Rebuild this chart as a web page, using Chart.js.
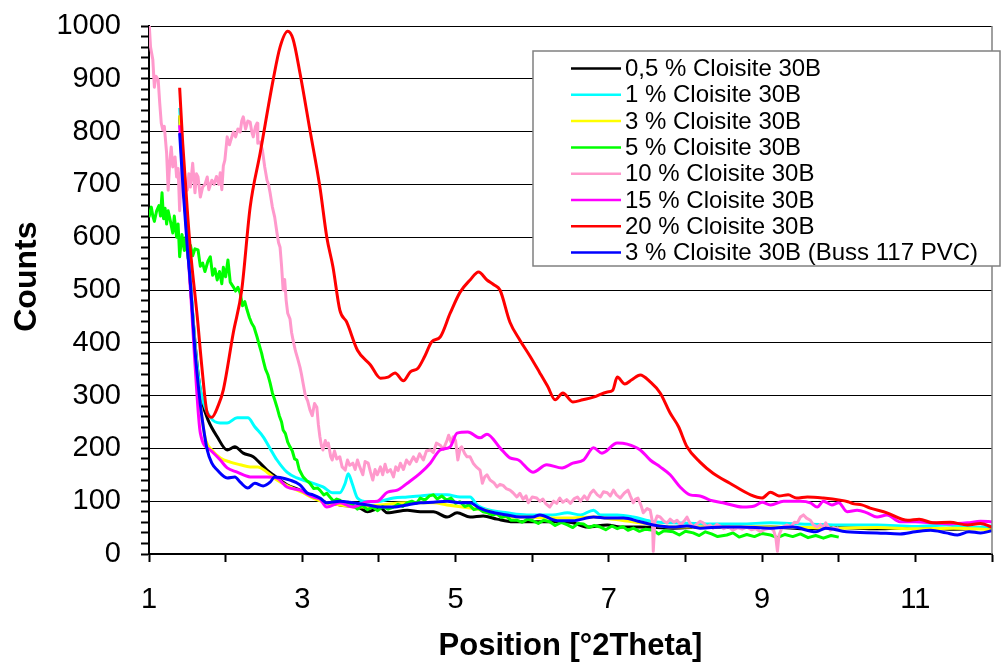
<!DOCTYPE html>
<html>
<head>
<meta charset="utf-8">
<script src="https://cdn.jsdelivr.net/npm/chart.js@4/dist/chart.umd.min.js"></script>
<style>
  html, body { margin: 0; padding: 0; background: #fff; }
  #wrap { width: 1007px; height: 666px; }
</style>
</head>
<body>
<div id="wrap"><canvas id="xrd" width="1007" height="666"></canvas></div>
<script>
// series names as in the legend
const seriesNames = [
  '0,5 % Cloisite 30B', '1 % Cloisite 30B', '3 % Cloisite 30B', '5 % Cloisite 30B',
  '10 % Cloisite 30B', '15 % Cloisite 30B', '20 % Cloisite 30B', '3 % Cloisite 30B (Buss 117 PVC)'
];
const seriesColors = ['#000000', '#00ffff', '#ffff00', '#00ff00', '#ff99cc', '#ff00ff', '#ff0000', '#0000ff'];
const noisy = [false, false, false, true, true, false, false, false];

// 0,5 %
const pos05 = [1.40,1.45,1.50,1.55,1.60,1.65,1.70,1.77,1.89,2.02,2.12,2.23,2.36,2.45,2.54,2.62,2.80,2.97,3.14,3.32,3.49,3.75,3.85,4.02,4.11,4.37,4.54,4.71,4.89,5.02,5.19,5.36,5.54,5.75,6.01,6.33,6.53,6.72,6.98,7.15,7.41,7.84,8.28,8.70,9.11,9.50,10.0,10.5,11.0,11.5,12.0];
const cnt05 = [830,700,600,490,400,330,285,254,222,197,203,191,184,172,159,150,131,121,108,97,93,87,80,87,78,83,80,80,70,78,70,72,66,61,61,61,59,51,55,51,51,49,51,50,51,48,50,48,50,47,49];

// 1 %
const pos1 = [1.40,1.45,1.50,1.55,1.60,1.65,1.70,1.80,1.93,2.02,2.15,2.29,2.38,2.49,2.58,2.67,2.80,2.93,3.10,3.27,3.40,3.49,3.56,3.60,3.65,3.72,3.85,4.02,4.19,4.37,4.54,4.71,4.89,5.06,5.19,5.28,5.45,5.67,5.93,6.27,6.46,6.63,6.80,6.89,7.11,7.32,7.58,7.84,8.28,8.72,9.11,9.50,10.0,10.5,11.0,11.4,11.7,12.0];
const cnt1 = [845,720,610,500,400,330,292,259,248,248,258,258,241,222,200,178,155,144,136,127,116,116,134,152,134,106,99,100,106,108,110,112,112,108,108,93,83,78,74,74,78,74,83,74,74,70,61,59,57,57,59,57,55,55,52,55,50,53];

// 3 %
const pos3 = [1.40,1.45,1.50,1.55,1.60,1.65,1.73,1.82,1.93,2.06,2.19,2.32,2.42,2.54,2.67,2.84,3.01,3.14,3.32,3.49,3.75,4.02,4.37,4.71,4.89,5.19,5.40,5.67,5.93,6.19,6.46,6.80,7.06,7.41,7.84,8.28,9.11,9.60,10.0,10.5,11.0,11.5,12.0];
const cnt3 = [831,710,600,490,390,310,222,197,182,174,169,165,165,155,140,127,116,106,97,93,89,93,97,97,93,87,83,70,70,68,68,70,66,59,51,51,51,50,49,50,48,49,46];

// 5 % (noisy)
const pos5 = [1.00,1.03,1.05,1.07,1.10,1.13,1.15,1.17,1.19,1.21,1.23,1.25,1.28,1.31,1.33,1.36,1.38,1.40,1.43,1.46,1.48,1.51,1.54,1.57,1.60,1.64,1.67,1.70,1.73,1.77,1.80,1.83,1.86,1.89,1.92,1.95,1.97,2.00,2.03,2.06,2.10,2.13,2.16,2.19,2.22,2.25,2.28,2.31,2.34,2.37,2.41,2.44,2.47,2.49,2.52,2.55,2.58,2.61,2.64,2.67,2.70,2.73,2.75,2.78,2.81,2.84,2.87,2.90,2.93,2.96,3.01,3.05,3.10,3.15,3.20,3.23,3.28,3.32,3.36,3.41,3.45,3.49,3.55,3.60,3.66,3.72,3.78,3.85,3.92,3.98,4.05,4.12,4.19,4.25,4.31,4.37,4.43,4.49,4.54,4.60,4.66,4.71,4.76,4.82,4.88,4.94,5.00,5.06,5.12,5.18,5.24,5.30,5.36,5.42,5.48,5.54,5.60,5.66,5.72,5.80,5.87,5.94,6.01,6.08,6.15,6.23,6.30,6.38,6.46,6.53,6.60,6.67,6.74,6.81,6.89,6.96,7.04,7.11,7.18,7.25,7.32,7.40,7.48,7.58,7.65,7.72,7.84,7.92,8.00,8.10,8.18,8.26,8.34,8.42,8.54,8.62,8.70,8.80,8.90,9.00,9.11,9.20,9.30,9.40,9.50,9.60,9.70,9.80,9.90,10.0];
const cnt5 = [638,657,640,630,650,660,640,684,635,655,625,650,630,608,640,600,625,563,605,575,600,560,585,565,578,576,545,551,535,555,563,528,540,519,535,512,543,525,557,515,506,498,505,494,470,478,462,448,437,430,411,395,380,367,350,340,324,305,292,278,262,250,235,228,212,203,195,180,178,160,146,140,134,124,125,121,112,115,108,100,104,102,95,98,93,85,92,84,89,82,90,85,89,94,90,97,100,96,106,102,110,112,104,110,102,106,96,99,90,93,84,86,80,78,74,76,69,72,64,64,60,66,63,58,64,61,54,60,55,50,58,57,50,54,51,46,53,48,52,45,49,43,47,45,38,44,42,36,43,40,35,42,38,33,36,40,32,37,33,39,36,31,37,33,38,31,35,30,35,32];

// 10 % (noisy)
const pos10 = [1.00,1.02,1.05,1.07,1.09,1.12,1.14,1.16,1.18,1.20,1.23,1.25,1.27,1.29,1.31,1.34,1.36,1.38,1.40,1.42,1.44,1.47,1.50,1.52,1.54,1.57,1.60,1.62,1.64,1.67,1.70,1.73,1.76,1.78,1.82,1.85,1.88,1.91,1.93,1.95,1.97,1.99,2.02,2.05,2.07,2.10,2.13,2.16,2.19,2.21,2.23,2.26,2.29,2.32,2.34,2.36,2.39,2.41,2.42,2.45,2.48,2.51,2.54,2.56,2.58,2.61,2.64,2.67,2.69,2.71,2.73,2.75,2.77,2.79,2.81,2.84,2.86,2.88,2.91,2.94,2.97,2.99,3.01,3.04,3.07,3.10,3.13,3.16,3.19,3.21,3.23,3.25,3.27,3.30,3.32,3.34,3.37,3.39,3.42,3.45,3.49,3.52,3.56,3.59,3.62,3.66,3.69,3.72,3.75,3.79,3.82,3.86,3.89,3.92,3.95,3.98,4.02,4.05,4.08,4.11,4.15,4.19,4.22,4.25,4.28,4.32,4.36,4.40,4.45,4.49,4.53,4.58,4.62,4.67,4.71,4.75,4.80,4.84,4.89,4.91,4.94,4.97,5.00,5.03,5.06,5.08,5.12,5.15,5.19,5.23,5.27,5.32,5.35,5.38,5.41,5.45,5.50,5.54,5.58,5.62,5.66,5.71,5.75,5.80,5.84,5.88,5.92,5.95,6.00,6.06,6.10,6.14,6.18,6.23,6.28,6.32,6.36,6.40,6.45,6.50,6.55,6.59,6.63,6.68,6.72,6.76,6.80,6.85,6.89,6.93,6.98,7.02,7.06,7.10,7.15,7.20,7.25,7.28,7.32,7.35,7.38,7.42,7.45,7.50,7.54,7.57,7.58,7.60,7.63,7.67,7.72,7.76,7.80,7.85,7.89,7.94,7.98,8.02,8.06,8.10,8.15,8.19,8.23,8.28,8.32,8.36,8.41,8.45,8.50,8.56,8.62,8.68,8.74,8.80,8.86,8.92,8.98,9.04,9.11,9.15,9.18,9.20,9.22,9.26,9.32,9.38,9.42,9.46,9.50,9.54,9.58,9.63,9.67,9.72,9.76,9.80,9.83,9.86,9.89,9.93,9.97,10.0];
const cnt10 = [1010,960,936,884,905,898,854,816,803,810,759,689,740,771,733,752,714,730,650,720,752,705,689,720,695,740,684,720,714,676,695,700,714,690,708,700,715,700,722,690,735,746,790,775,785,799,790,805,799,820,828,805,820,818,800,790,810,816,778,780,765,733,708,700,684,657,638,608,590,581,545,500,520,480,456,445,420,405,385,370,354,340,324,300,290,273,262,285,278,245,222,205,197,215,205,210,185,178,195,180,184,165,159,178,168,172,160,178,165,150,175,172,155,140,160,150,165,150,170,155,160,146,165,158,172,160,178,170,184,175,190,178,195,197,192,210,206,198,216,225,212,222,215,178,200,203,190,184,184,172,165,159,134,146,150,140,135,127,132,130,124,121,116,108,115,104,110,97,108,106,100,104,95,89,100,96,106,98,103,96,105,108,100,110,103,115,121,112,108,118,116,110,121,112,106,115,121,110,97,104,106,92,78,86,83,60,5,60,72,70,62,59,66,60,64,55,62,70,58,51,57,62,59,52,55,49,56,53,48,52,45,50,47,51,46,48,42,47,49,45,30,5,35,50,55,52,60,59,70,74,68,64,55,51,56,50,59,52,45,50,47,50];

// 15 %
const pos15 = [1.40,1.45,1.50,1.55,1.60,1.67,1.80,1.93,2.02,2.15,2.32,2.54,2.67,2.80,2.97,3.14,3.23,3.32,3.49,3.66,3.85,3.98,4.11,4.24,4.37,4.54,4.67,4.80,4.93,5.02,5.16,5.32,5.41,5.58,5.71,5.82,6.01,6.19,6.39,6.53,6.67,6.80,6.91,7.11,7.24,7.41,7.54,7.67,7.80,7.93,8.06,8.19,8.32,8.49,8.75,8.90,9.00,9.11,9.28,9.50,9.63,9.72,9.80,9.91,10.0,10.11,10.24,10.37,10.50,10.63,10.80,11.0,11.23,11.45,11.68,11.85,12.0];
const cnt15 = [812,700,590,480,360,229,197,178,163,155,146,146,144,127,121,108,104,89,97,89,99,100,117,121,134,153,172,197,203,229,231,220,227,201,182,178,155,169,163,172,178,201,191,210,208,197,178,165,150,127,112,110,102,97,89,91,98,93,100,100,97,89,100,93,97,80,83,78,70,74,61,61,59,57,59,62,61];

// 20 %
const pos20 = [1.40,1.44,1.50,1.54,1.63,1.69,1.76,1.82,1.90,1.97,2.10,2.21,2.32,2.45,2.62,2.71,2.81,2.88,2.97,3.10,3.23,3.32,3.40,3.49,3.58,3.72,3.89,4.02,4.12,4.21,4.32,4.41,4.51,4.60,4.69,4.80,4.93,5.06,5.19,5.30,5.41,5.50,5.58,5.71,5.84,5.97,6.10,6.20,6.30,6.40,6.53,6.66,6.80,6.98,7.05,7.11,7.21,7.30,7.41,7.54,7.67,7.80,7.91,8.02,8.19,8.36,8.58,8.85,9.00,9.11,9.22,9.34,9.45,9.59,9.80,10.02,10.12,10.20,10.30,10.41,10.63,10.90,11.05,11.23,11.45,11.68,11.85,12.0];
const cnt20 = [883,778,651,576,449,354,267,259,280,311,419,500,657,759,898,960,990,975,911,803,695,600,544,462,439,386,358,333,335,343,328,345,352,375,402,411,456,496,519,534,519,510,500,439,405,375,343,318,292,305,288,292,297,307,310,335,322,330,339,326,305,267,241,203,174,153,134,112,106,117,110,112,106,108,106,102,99,95,93,87,78,64,66,59,60,55,58,51];

// 3 % Buss 117 PVC
const posBuss = [1.40,1.45,1.50,1.54,1.60,1.65,1.69,1.76,1.82,1.89,2.02,2.12,2.19,2.29,2.38,2.49,2.58,2.64,2.71,2.84,2.97,3.06,3.14,3.23,3.32,3.49,3.66,3.85,4.02,4.19,4.37,4.54,4.71,4.89,5.06,5.19,5.30,5.45,5.67,5.84,6.01,6.10,6.33,6.53,6.80,6.98,7.19,7.41,7.58,7.84,8.02,8.19,8.49,8.72,9.11,9.40,9.70,9.83,10.1,10.5,10.8,11.0,11.2,11.4,11.55,11.7,11.85,12.0];
const cntBuss = [797,680,580,513,386,310,260,197,172,159,144,146,136,125,134,129,136,146,145,140,131,116,112,106,97,100,97,93,89,89,93,97,98,100,97,97,88,80,74,70,70,74,63,63,70,68,68,61,55,51,53,49,51,51,49,51,42,49,42,40,38,42,45,40,36,42,40,44];

const xTicks = [1, 3, 5, 7, 9, 11];

const positions = [pos05, pos1, pos3, pos5, pos10, pos15, pos20, posBuss];
const counts = [cnt05, cnt1, cnt3, cnt5, cnt10, cnt15, cnt20, cntBuss];

const FONT = "'Liberation Sans', Arial, sans-serif";

const datasets = seriesNames.map((name, i) => ({
  label: name,
  data: positions[i].map((x, k) => ({ x: x, y: counts[i][k] })),
  borderColor: seriesColors[i],
  backgroundColor: seriesColors[i],
  borderWidth: 3,
  borderJoinStyle: 'round',
  pointRadius: 0,
  showLine: true,
  cubicInterpolationMode: noisy[i] ? 'default' : 'monotone',
  tension: noisy[i] ? 0 : 0.4,
  order: 7 - i   // later series drawn on top, like the original
}));

// legend box drawn inside the plot area, plus the right frame line
const boxLegend = {
  id: 'boxLegend',
  afterDraw(chart) {
    const ctx = chart.ctx;
    const area = chart.chartArea;
    ctx.save();
    ctx.strokeStyle = '#808080';
    ctx.lineWidth = 1.5;
    ctx.beginPath();
    ctx.moveTo(area.right, area.top);
    ctx.lineTo(area.right, area.bottom);
    ctx.stroke();

    const bx = 533, by = 51, bw = 467, bh = 215;
    ctx.fillStyle = '#fff';
    ctx.fillRect(bx, by, bw, bh);
    ctx.strokeRect(bx, by, bw, bh);
    ctx.font = '24px ' + FONT;
    ctx.textBaseline = 'middle';
    chart.data.datasets.forEach((ds, i) => {
      const y = by + 17.5 + i * 26.3;
      ctx.strokeStyle = ds.borderColor;
      ctx.lineWidth = 2.5;
      ctx.beginPath();
      ctx.moveTo(571, y);
      ctx.lineTo(621, y);
      ctx.stroke();
      ctx.fillStyle = '#000';
      ctx.fillText(ds.label, 625, y + 1);
    });
    ctx.restore();
  }
};

new Chart(document.getElementById('xrd'), {
  type: 'scatter',
  data: { datasets },
  plugins: [boxLegend],
  options: {
    responsive: false,
    animation: false,
    layout: { padding: { top: 26, right: 15, left: 0, bottom: 0 } },
    plugins: { legend: { display: false }, tooltip: { enabled: false } },
    scales: {
      x: {
        type: 'linear',
        min: 1,
        max: 12,
        afterFit: s => { s.height = 112; s.paddingLeft = 0; s.paddingRight = 0; },
        afterBuildTicks: s => { s.ticks = [1,2,3,4,5,6,7,8,9,10,11,12].map(v => ({ value: v })); },
        ticks: {
          autoSkip: false,
          maxRotation: 0,
          padding: 21,
          color: '#000',
          font: { family: FONT, size: 29 },
          callback: v => xTicks.includes(v) ? String(v) : ''
        },
        grid: { drawOnChartArea: false, tickLength: 8, tickColor: '#000', tickWidth: 2 },
        border: { color: '#000', width: 2 },
        title: {
          display: true,
          text: 'Position [°2Theta]',
          color: '#000',
          font: { family: FONT, size: 31, weight: 'bold' },
          padding: { top: 0, bottom: 1 }
        }
      },
      y: {
        min: 0,
        max: 1000,
        afterFit: s => { s.width = 149; s.paddingTop = 0; s.paddingBottom = 0; },
        ticks: {
          stepSize: 20,
          autoSkip: false,
          padding: 20,
          color: '#000',
          font: { family: FONT, size: 29 },
          callback: v => v % 100 === 0 ? String(v) : ''
        },
        grid: {
          color: c => (c.tick && c.tick.value % 100 === 0) ? '#000' : 'rgba(0,0,0,0)',
          lineWidth: 1,
          tickLength: 8,
          tickColor: '#000',
          tickWidth: 2
        },
        border: { color: '#000', width: 2 },
        title: {
          display: true,
          text: '   Counts',
          color: '#000',
          font: { family: FONT, size: 32, weight: 'bold' },
          padding: { top: 8, bottom: 0 }
        }
      }
    }
  }
});
</script>
</body>
</html>
